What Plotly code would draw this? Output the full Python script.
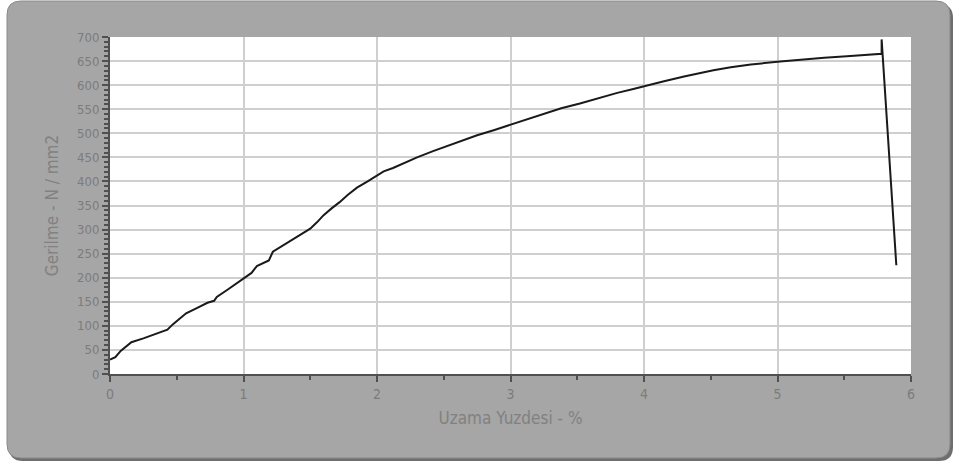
import plotly.graph_objects as go

# Data
strain_pct = [0.00, 0.04, 0.08, 0.12, 0.16, 0.25, 0.33, 0.40, 0.43, 0.47, 0.52, 0.57, 0.65, 0.73, 0.78,
              0.80, 0.88, 0.95, 1.00, 1.06, 1.10, 1.13, 1.19, 1.22, 1.30, 1.37, 1.45, 1.50, 1.55, 1.60,
              1.66, 1.72, 1.78, 1.85, 1.93, 2.00, 2.05, 2.12, 2.20, 2.30, 2.42, 2.55, 2.62, 2.75, 2.88,
              3.00, 3.12, 3.25, 3.38, 3.52, 3.67, 3.80, 3.92, 4.00, 4.15, 4.30, 4.45, 4.52, 4.65, 4.80,
              5.02, 5.20, 5.35, 5.52, 5.65, 5.78, 5.78, 5.89]
stress_nmm2 = [30, 35, 48, 58, 66, 74, 82, 89, 92, 103, 115, 126, 137, 148, 152,
               160, 175, 188, 198, 210, 224, 228, 236, 254, 268, 280, 293, 302, 315, 330,
               344, 357, 372, 387, 400, 412, 421, 428, 438, 450, 463, 476, 483, 496, 507,
               518, 529, 541, 552, 562, 574, 584, 592, 598, 608, 618, 627, 631, 637, 643,
               649, 654, 657, 660, 663, 665, 695, 226]

x_ticks = [0, 1, 2, 3, 4, 5, 6]
y_ticks = list(range(0, 701, 50))
x_title = "Uzama Yuzdesi - %"
y_title = "Gerilme - N / mm2"

W, H = 954, 463
L, R, T, B = 110, 43, 37, 89
pw, ph = W - L - R, H - T - B


def px(xp):
    return (xp - L) / pw


def py(yp):
    return (H - B - yp) / ph


def rounded(x0, y0, x1, y1, r):
    rx, ry = r / pw, r / ph
    X0, X1 = px(x0), px(x1)
    Y0, Y1 = py(y0), py(y1)  # Y0 top (larger), Y1 bottom
    return (f"M {X0+rx},{Y0} L {X1-rx},{Y0} Q {X1},{Y0} {X1},{Y0-ry} "
            f"L {X1},{Y1+ry} Q {X1},{Y1} {X1-rx},{Y1} L {X0+rx},{Y1} "
            f"Q {X0},{Y1} {X0},{Y1+ry} L {X0},{Y0-ry} Q {X0},{Y0} {X0+rx},{Y0} Z")


fig = go.Figure()
fig.add_trace(go.Scatter(x=strain_pct, y=stress_nmm2, mode="lines",
                         line=dict(color="#1a1a1a", width=2), showlegend=False,
                         hoverinfo="skip"))

shapes = [
    # shadow
    dict(type="path", xref="paper", yref="paper", layer="below",
         path=rounded(9, 4, 953, 461, 14), fillcolor="#6e6e6e", line=dict(width=0)),
    # frame
    dict(type="path", xref="paper", yref="paper", layer="below",
         path=rounded(7, 1, 950, 458, 14), fillcolor="#a6a6a6",
         line=dict(color="#8a8a8a", width=1)),
    # plot area
    dict(type="rect", xref="paper", yref="paper", layer="below",
         x0=0, x1=1, y0=0, y1=1, fillcolor="white", line=dict(width=0)),
]

font_fam = "Liberation Sans Narrow, DejaVu Sans Condensed, Liberation Sans, Arial"
fig.update_layout(
    width=W, height=H,
    margin=dict(l=L, r=R, t=T, b=B, autoexpand=False),
    paper_bgcolor="white", plot_bgcolor="rgba(0,0,0,0)",
    shapes=shapes,
    font=dict(family=font_fam, size=13, color="#7c7c7c"),
    xaxis=dict(range=[0, 6], tickvals=x_ticks, ticks="outside", ticklen=6, tickwidth=2,
               tickcolor="#505050", showline=True, linecolor="#505050", linewidth=2,
               showgrid=True, gridcolor="#cfcfcf", gridwidth=2, zeroline=False,
               tickfont=dict(size=14, color="#7c7c7c"),
               minor=dict(dtick=0.5, ticks="outside", ticklen=4, tickwidth=2,
                          tickcolor="#505050", showgrid=False),
               title=dict(text=x_title, font=dict(size=17, color="#818181"), standoff=11)),
    yaxis=dict(range=[0, 700], tickvals=y_ticks, ticks="outside", ticklen=6, tickwidth=2,
               tickcolor="#505050", showline=True, linecolor="#505050", linewidth=2,
               showgrid=True, gridcolor="#cfcfcf", gridwidth=2, zeroline=False,
               tickfont=dict(size=13, color="#7c7c7c"),
               minor=dict(dtick=10, ticks="outside", ticklen=4, tickwidth=2,
                          tickcolor="#505050", showgrid=False),
               title=dict(text=y_title, font=dict(size=17, color="#818181"), standoff=14)),
)

fig.write_html("out.html", config={"displayModeBar": False, "staticPlot": True},
               post_script="document.body.style.margin='0';document.body.style.padding='0';")
